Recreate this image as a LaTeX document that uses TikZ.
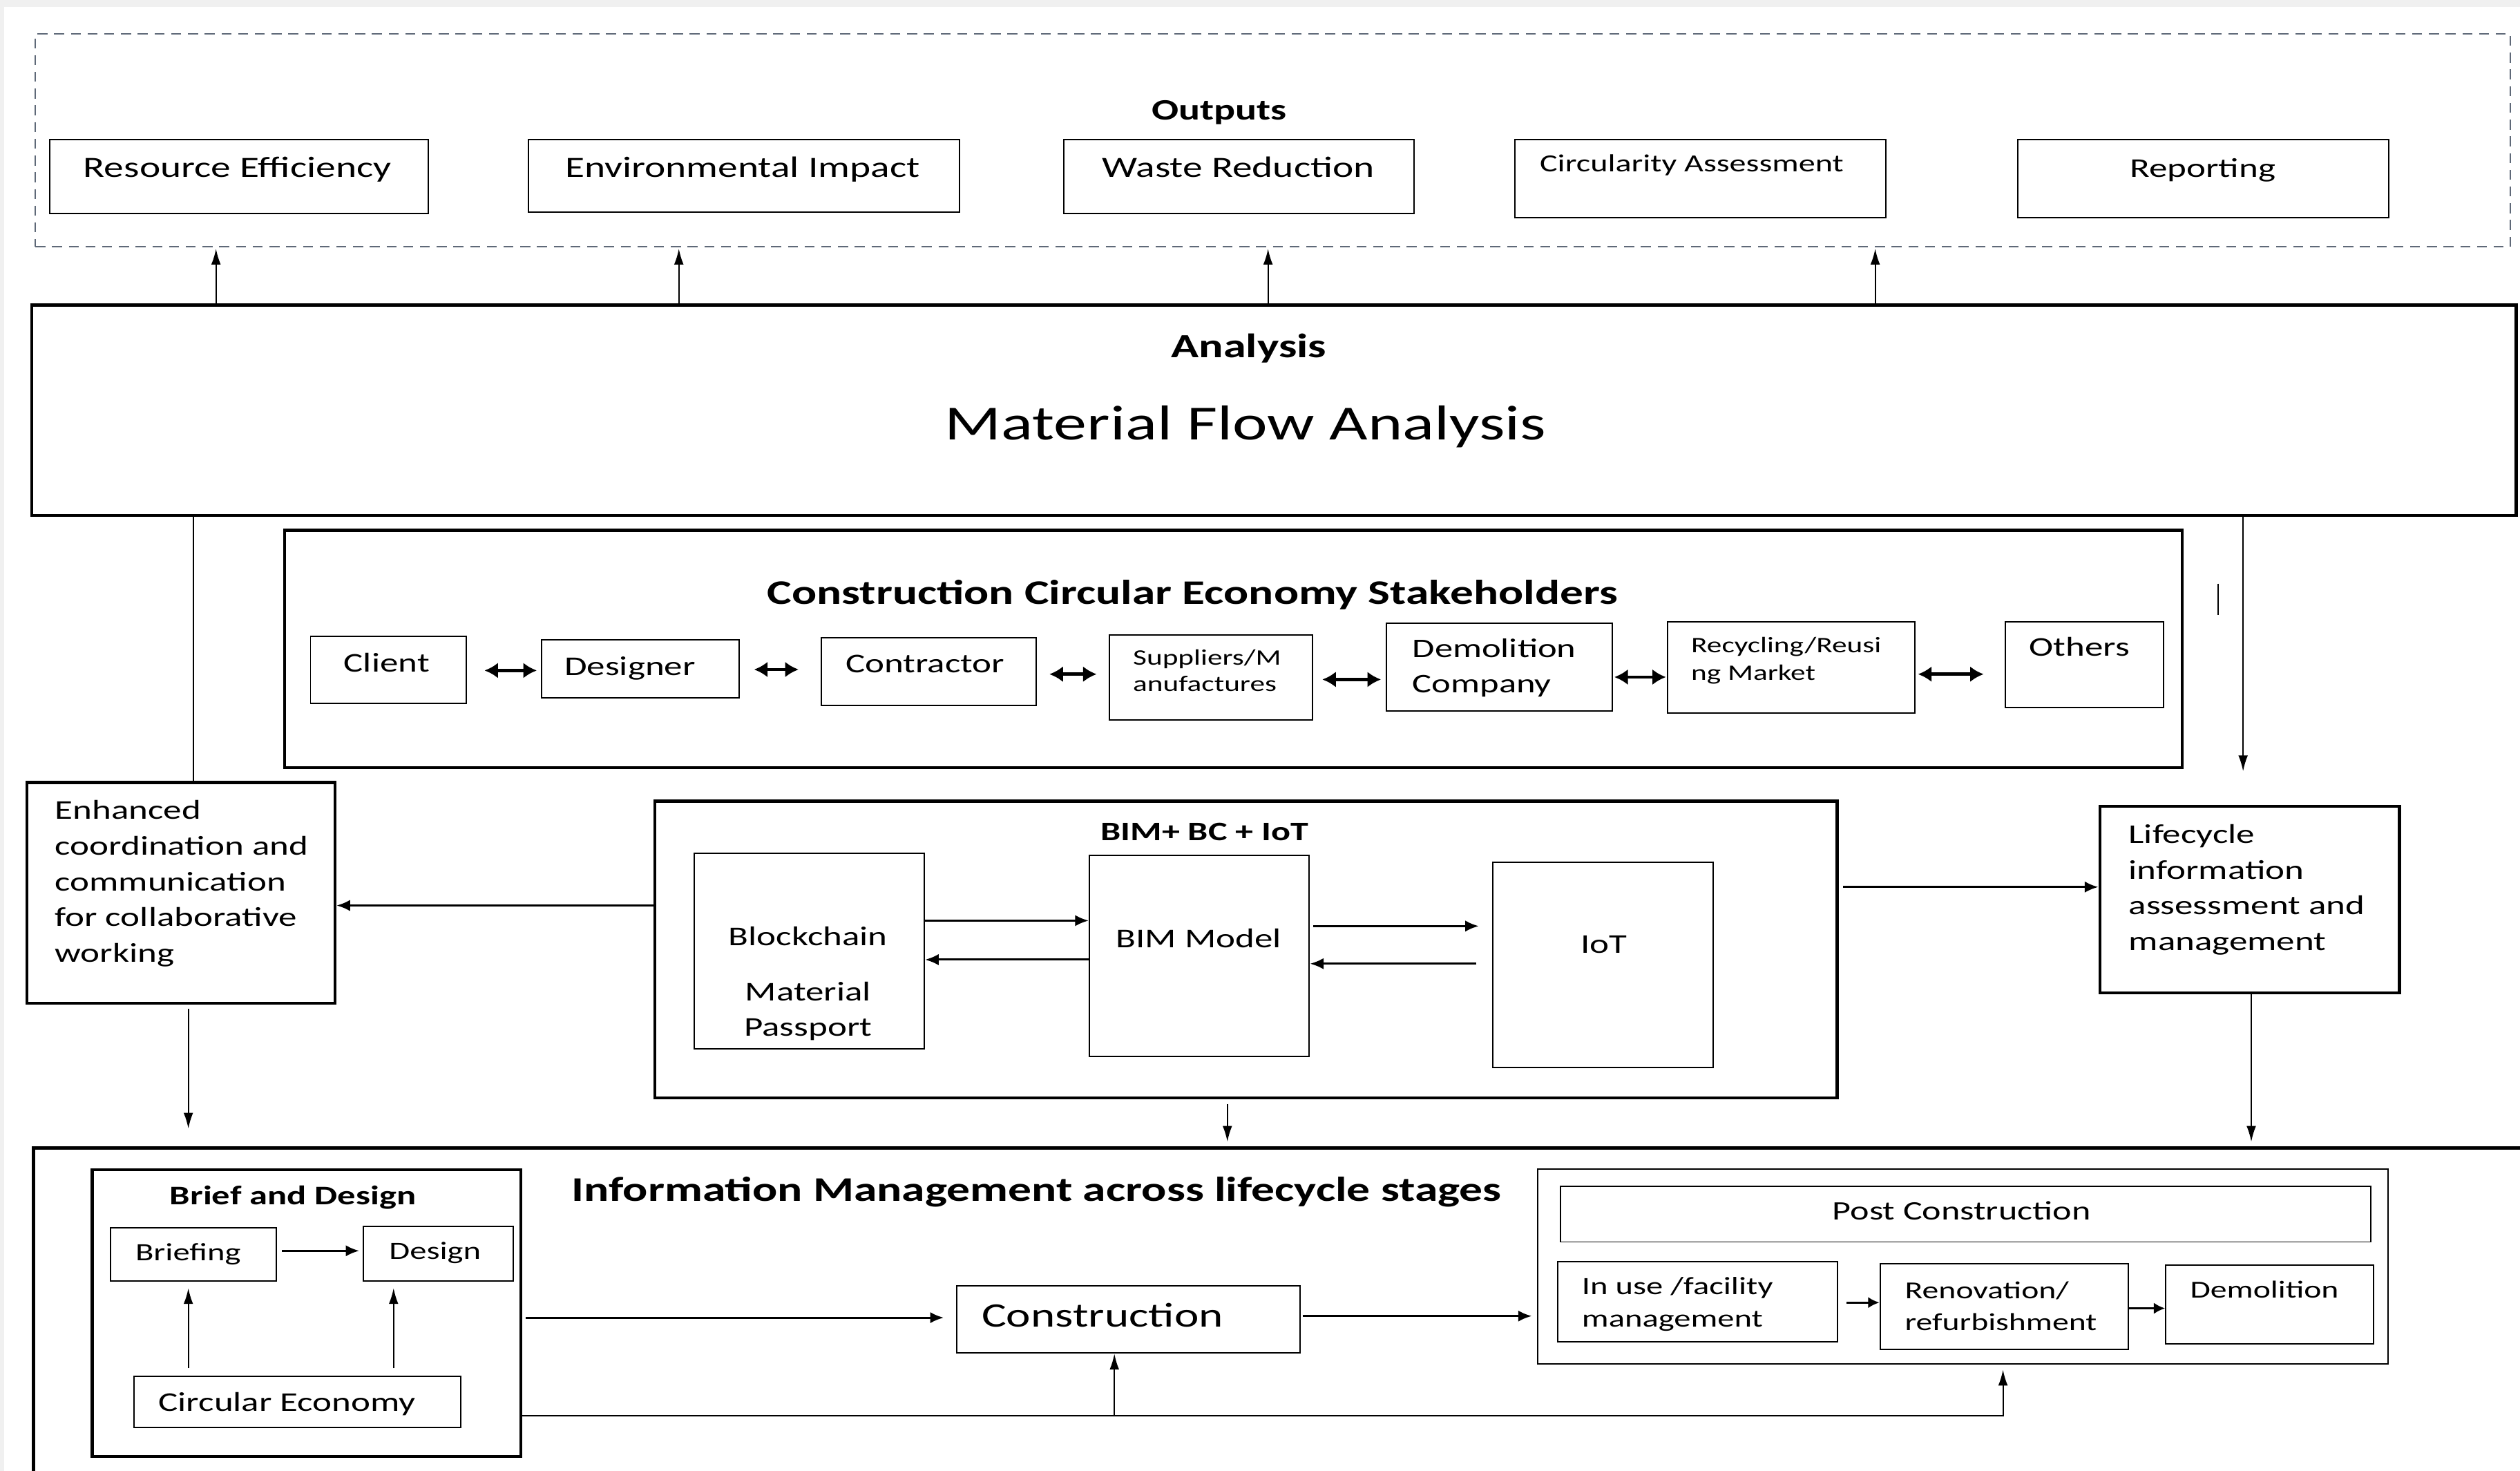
\documentclass[tikz,border=0pt]{standalone}
\usepackage{fontspec}
\setmainfont{Carlito}[FakeStretch=1.35]
\usetikzlibrary{arrows.meta,fit,calc}

\definecolor{dashgray}{RGB}{95,105,120}
\definecolor{edgegray}{RGB}{240,240,240}

\tikzset{
  box/.style={draw, line width=0.6pt, inner sep=0pt},
  heavybox/.style={draw, line width=1.4pt, inner sep=0pt},
  lbl/.style={inner sep=0pt, anchor=base},
  lblw/.style={inner sep=0pt, anchor=base west, align=left},
  arr/.style={-{Latex[length=7pt,width=4.2pt]}, line width=0.6pt},
  arrm/.style={-{Latex[length=6pt,width=5pt]}, line width=0.9pt},
  dbl/.style={{Latex[length=6pt,width=7pt]}-{Latex[length=6pt,width=7pt]}, line width=1.4pt},
  plain/.style={line width=0.6pt},
}

\begin{document}
\begin{tikzpicture}[x=0.025cm, y=-0.025cm]
\clip (0,0) rectangle (1568,915);
\fill[white] (0,0) rectangle (1568,915);
\fill[edgegray] (0,0) rectangle (1568,4.3);
\fill[edgegray] (0,0) rectangle (2.5,915);

% ---------- Outputs ----------
\node[draw=dashgray, line width=0.7pt, dash pattern=on 4.4pt off 3pt, inner sep=0pt,
      fit={(22,21) (1562,153.5)}] (outputs) {};
\node[lbl, font=\bfseries\fontsize{13.1}{15}\selectfont] (outputs-t) at (758.6,74.5) {Outputs};

\node[box, fit={(31,87) (266.5,133)}] (re) {};
\node[lbl, font=\fontsize{13}{15}\selectfont] (re-t) at (147.7,110.3) {Resource Efficiency};
\node[box, fit={(329,87) (597,132)}] (ei) {};
\node[lbl, font=\fontsize{13}{15}\selectfont] (ei-t) at (462,110.3) {Environmental Impact};
\node[box, fit={(662,87) (880,133)}] (wr) {};
\node[lbl, font=\fontsize{13}{15}\selectfont] (wr-t) at (770.5,110.3) {Waste Reduction};
\node[box, fit={(942.4,87) (1173.4,135.4)}] (ca) {};
\node[lbl, font=\fontsize{10.9}{13}\selectfont] (ca-t) at (1052.6,107) {Circularity Assessment};
\node[box, fit={(1255.4,87) (1486.4,135.4)}] (rep) {};
\node[lbl, font=\fontsize{12}{14}\selectfont] (rep-t) at (1370.5,110.3) {Reporting};

% ---------- Analysis ----------
\node[heavybox, fit={(19.8,189.8) (1565.5,320.6)}] (analysis) {};
\node[lbl, font=\bfseries\fontsize{15}{18}\selectfont] (analysis-t) at (777,222.3) {Analysis};
\node[lbl, font=\fontsize{21.7}{26}\selectfont] (mfa-t) at (775,273.6) {Material Flow Analysis};

\coordinate (up1) at (134.4,0);
\coordinate (up2) at (422.4,0);
\coordinate (up3) at (789,0);
\coordinate (up4) at (1166.8,0);
\foreach \u in {up1,up2,up3,up4}
  \draw[arr, shorten >=0.5pt] (analysis.north -| \u) -- (outputs.south -| \u);

% ---------- Stakeholders ----------
\node[heavybox, fit={(177.1,329.8) (1357.8,477.6)}] (stake) {};
\node[lbl, font=\bfseries\fontsize{15.25}{18}\selectfont] (stake-t) at (742,375.9)
  {Construction Circular Economy Stakeholders};

\node[box, fit={(193.2,395.8) (290.2,437.7)}] (client) {};
\node[lbl, font=\fontsize{12}{14}\selectfont] (client-t) at (240.6,417.9) {Client};
\node[box, fit={(337,397.9) (459.9,434.2)}] (designer) {};
\node[lbl, font=\fontsize{12}{14}\selectfont] (designer-t) at (392,420) {Designer};
\node[box, fit={(511,396.7) (644.8,438.7)}] (contractor) {};
\node[lbl, font=\fontsize{12}{14}\selectfont] (contractor-t) at (575.6,418.5) {Contractor};
\node[box, fit={(690.1,394.9) (816.7,447.8)}] (suppliers) {};
\node[lblw, font=\fontsize{9.8}{11.6}\selectfont] (suppliers-t) at (704.7,430) {Suppliers/M\\anufactures};
\node[box, fit={(862.8,387.8) (1003.2,442.1)}] (demolco) {};
\node[lblw, font=\fontsize{11.9}{15.8}\selectfont] (demolco-t) at (878.6,431) {Demolition\\Company};
\node[box, fit={(1037.6,386.8) (1191.6,443.4)}] (recycling) {};
\node[lblw, font=\fontsize{9.8}{12.3}\selectfont] (recycling-t) at (1052,423.3) {Recycling/Reusi\\ng Market};
\node[box, fit={(1247.8,386.8) (1346.1,440)}] (others) {};
\node[lbl, font=\fontsize{12}{14}\selectfont] (others-t) at (1294,408) {Others};

\coordinate (ya) at (0,417.1);
\coordinate (yb) at (0,416.5);
\coordinate (yc) at (0,419.4);
\coordinate (yd) at (0,422.7);
\coordinate (ye) at (0,421.2);
\coordinate (yf) at (0,419.4);
\draw[dbl, shorten <=7.7pt, shorten >=1.8pt] (client.east |- ya) -- (designer.west |- ya);
\draw[dbl, shorten <=6.3pt, shorten >=9.7pt] (designer.east |- yb) -- (contractor.west |- yb);
\draw[dbl, shorten <=5.5pt, shorten >=5.2pt] (contractor.east |- yc) -- (suppliers.west |- yc);
\draw[dbl, shorten <=4pt, shorten >=2.2pt] (suppliers.east |- yd) -- (demolco.west |- yd);
\draw[dbl, shorten <=0.6pt, shorten >=0.4pt] (demolco.east |- ye) -- (recycling.west |- ye);
\draw[dbl, shorten <=1pt, shorten >=9.3pt] (recycling.east |- yf) -- (others.west |- yf);

\draw[plain] (1380,363) -- (1380,382.5);

% ---------- Middle row ----------
\node[heavybox, fit={(16.7,486.8) (208.4,624.1)}] (enhanced) {};
\node[lblw, font=\fontsize{12}{15.8}\selectfont] (enhanced-t) at (33.9,598.6)
  {Enhanced\\coordination and\\communication\\for collaborative\\working};

\node[heavybox, fit={(407.4,498.3) (1143,682.9)}] (tech) {};
\node[lbl, font=\bfseries\fontsize{11.8}{14}\selectfont] (tech-t) at (749.5,523) {BIM+ BC + IoT};

\node[box, fit={(431.9,530.9) (575.2,652.4)}] (blockchain) {};
\node[lbl, font=\fontsize{12}{14}\selectfont] (blockchain-t) at (502.8,588) {Blockchain};
\node[lbl, align=center, font=\fontsize{12}{15.8}\selectfont] (passport-t) at (502.8,644.7) {Material\\Passport};

\node[box, fit={(677.8,532.3) (814.7,657)}] (bim) {};
\node[lbl, font=\fontsize{12}{14}\selectfont] (bim-t) at (745.8,589.6) {BIM Model};

\node[box, fit={(928.7,536.6) (1066,664)}] (iot) {};
\node[lbl, font=\fontsize{12}{14}\selectfont] (iot-t) at (998,592.9) {IoT};

\coordinate (yg) at (0,572.7);
\coordinate (yh) at (0,597);
\coordinate (yi) at (0,576.1);
\coordinate (yj) at (0,599.5);
\draw[arrm] (blockchain.east |- yg) -- (bim.west |- yg);
\draw[arrm] (bim.west |- yh) -- (blockchain.east |- yh);
\draw[arrm, shorten <=1.4pt, shorten >=5.8pt] (bim.east |- yi) -- (iot.west |- yi);
\draw[arrm, shorten <=6.9pt] (iot.west |- yj) -- (bim.east |- yj);

\node[heavybox, fit={(1306.6,501.6) (1493,617.6)}] (lifecycle) {};
\node[lblw, font=\fontsize{12}{15.8}\selectfont] (lifecycle-t) at (1324.3,591.2)
  {Lifecycle\\information\\assessment and\\management};

\coordinate (yk) at (0,563.3);
\coordinate (yl) at (0,551.8);
\draw[arrm] (tech.west |- yk) -- (enhanced.east |- yk);
\draw[arrm, shorten <=2pt] (tech.east |- yl) -- (lifecycle.west |- yl);

\coordinate (xa) at (120.3,0);
\coordinate (xb) at (1395.7,0);
\draw[plain] (analysis.south -| xa) -- (enhanced.north -| xa);
\draw[arr, shorten >=14.8pt] (analysis.south -| xb) -- (lifecycle.north -| xb);

% ---------- Information management ----------
\node[heavybox, fit={(20.8,714.1) (1600,960)}] (info) {};
\node[lbl, font=\bfseries\fontsize{15.3}{18}\selectfont] (info-t) at (645,747.2)
  {Information Management across lifecycle stages};

\coordinate (xc) at (117.2,0);
\coordinate (xd) at (763.7,0);
\coordinate (xe) at (1400.8,0);
\draw[arr, shorten <=1.8pt, shorten >=7.8pt] (enhanced.south -| xc) -- (info.north -| xc);
\draw[arr, shorten <=2pt, shorten >=2pt] (tech.south -| xd) -- (info.north -| xd);
\draw[arr, shorten >=2pt] (lifecycle.south -| xe) -- (info.north -| xe);

\node[heavybox, fit={(57.3,727.6) (324.1,906)}] (brief) {};
\node[lbl, font=\bfseries\fontsize{11.9}{14}\selectfont] (brief-t) at (182.3,749.4) {Brief and Design};

\node[box, fit={(68.8,763.9) (171.9,796.8)}] (briefing) {};
\node[lbl, font=\fontsize{11}{13}\selectfont] (briefing-t) at (117,784.2) {Briefing};
\node[box, fit={(226.1,763.1) (319.4,796.8)}] (design) {};
\node[lbl, font=\fontsize{11}{13}\selectfont] (design-t) at (270.7,783.4) {Design};
\node[box, fit={(83.4,856.4) (286.6,887.9)}] (circular) {};
\node[lbl, font=\fontsize{12}{14}\selectfont] (circular-t) at (178.7,877.7) {Circular Economy};

\coordinate (ym) at (0,778.1);
\coordinate (xf) at (117.2,0);
\coordinate (xg) at (244.9,0);
\draw[arrm, shorten <=2.2pt, shorten >=1.5pt] (briefing.east |- ym) -- (design.west |- ym);
\draw[arr, shorten <=3.4pt, shorten >=2.9pt] (circular.north -| xf) -- (briefing.south -| xf);
\draw[arr, shorten <=3.4pt, shorten >=2.9pt] (circular.north -| xg) -- (design.south -| xg);

\node[box, fit={(595.5,799.8) (809.1,841.7)}] (construction) {};
\node[lbl, font=\fontsize{15.2}{18}\selectfont] (construction-t) at (686,825.5) {Construction};

\coordinate (yn) at (0,819.7);
\coordinate (yo) at (0,818.7);
\draw[arrm, shorten <=1.4pt, shorten >=5.6pt] (brief.east |- yn) -- (construction.west |- yn);

\node[box, fit={(956.6,727.2) (1486,848.4)}] (post) {};
\node[box, fit={(970.8,737.8) (1475.3,772.6)}] (postcons) {};
\node[lbl, font=\fontsize{11.8}{14}\selectfont] (postcons-t) at (1220.5,758.8) {Post Construction};

\draw[arrm, shorten <=0.7pt, shorten >=2.2pt] (construction.east |- yo) -- (post.west |- yo);

\node[box, fit={(969.3,784.9) (1143.5,834.9)}] (inuse) {};
\node[lblw, font=\fontsize{11}{14.4}\selectfont] (inuse-t) at (984,825.5) {In use /facility\\management};
\node[box, fit={(1169.8,786) (1324.3,839.3)}] (renov) {};
\node[lblw, font=\fontsize{10.8}{14.2}\selectfont] (renov-t) at (1185,827.7) {Renovation/\\refurbishment};
\node[box, fit={(1347.6,787) (1476.8,835.9)}] (demol) {};
\node[lbl, font=\fontsize{10.8}{13}\selectfont] (demol-t) at (1409,807.3) {Demolition};

\coordinate (yp) at (0,810.3);
\coordinate (yq) at (0,813.9);
\draw[-{Latex[length=5pt,width=5pt]}, line width=0.9pt, shorten <=3.6pt] (inuse.east |- yp) -- (renov.west |- yp);
\draw[-{Latex[length=5pt,width=5pt]}, line width=0.9pt] (renov.east |- yq) -- (demol.west |- yq);

\coordinate (yr) at (0,880.6);
\coordinate (xh) at (693.4,0);
\coordinate (xi) at (1246.3,0);
\draw[arr, shorten >=2.3pt] (brief.east |- yr) -| (post.south -| xi);
\draw[arr] (xh |- yr) -- (construction.south -| xh);

\end{tikzpicture}
\end{document}
